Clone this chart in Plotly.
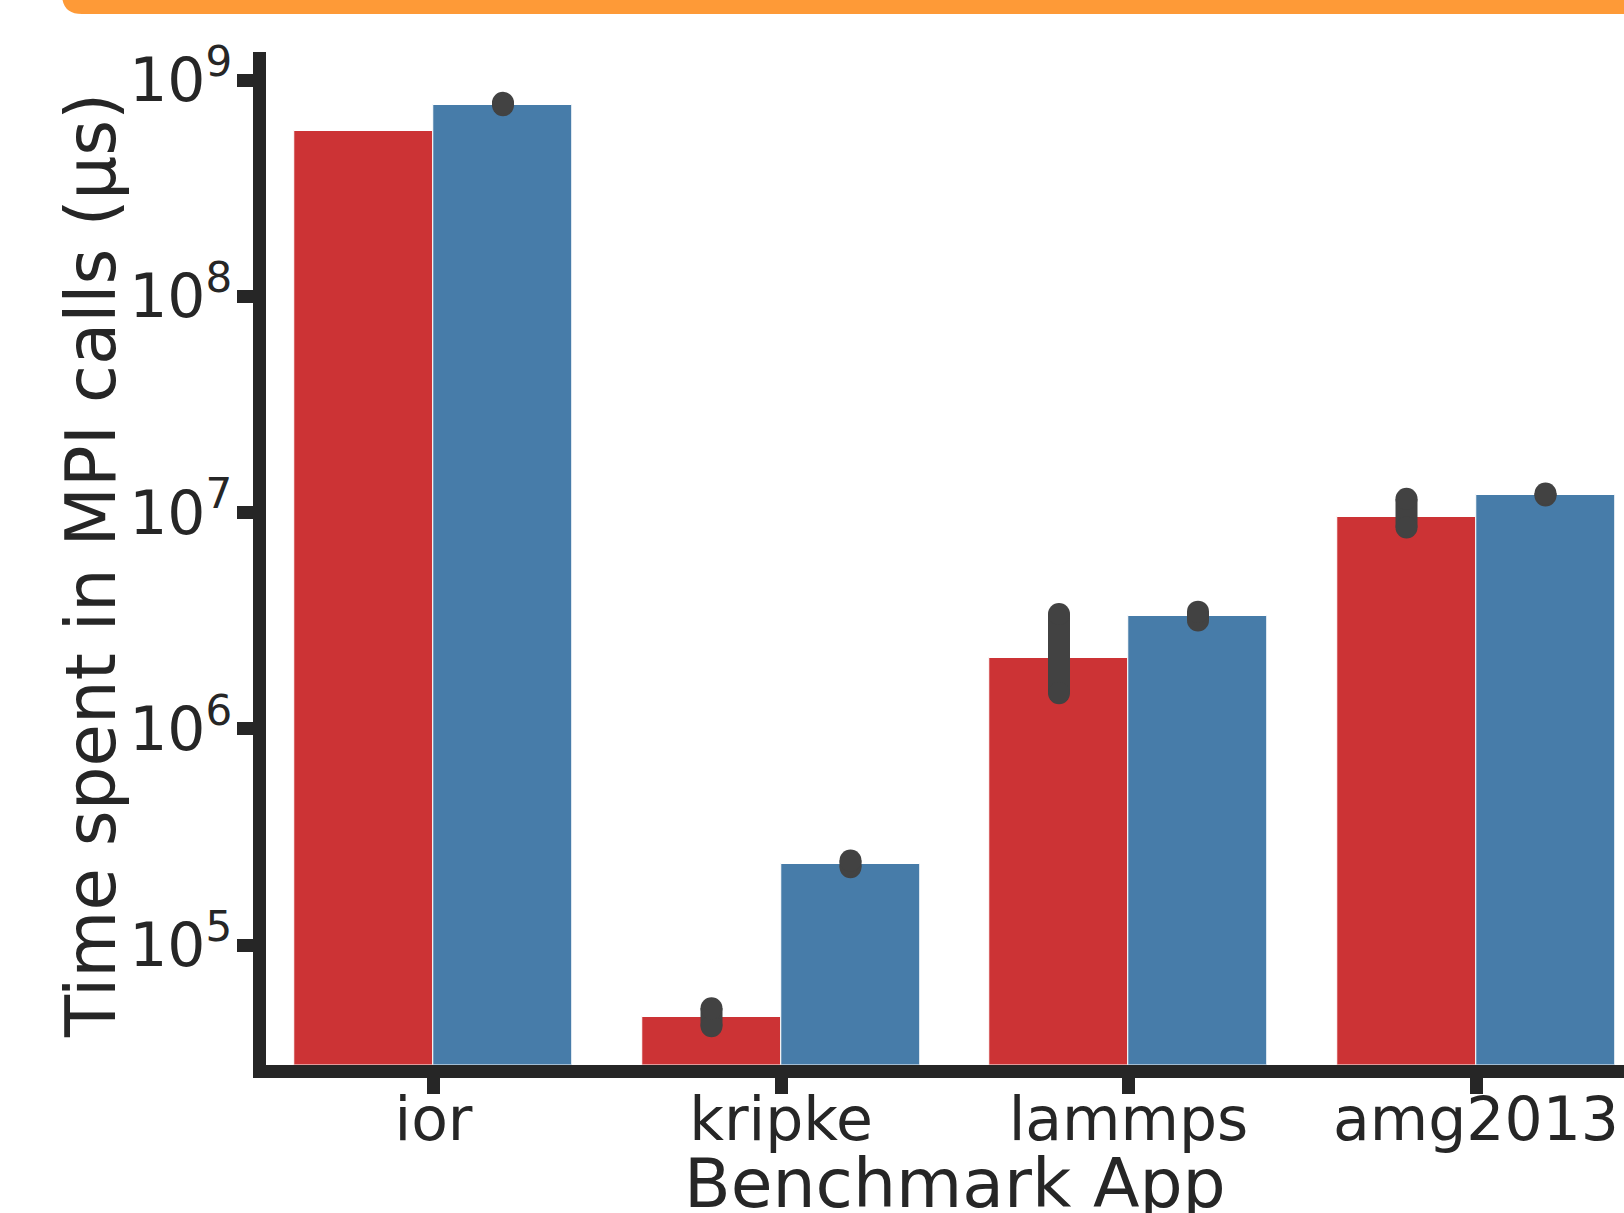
import numpy as np
import plotly.graph_objects as go

# Benchmark applications on the x axis
apps = ["ior", "kripke", "lammps", "amg2013"]

# Mean time spent in MPI calls (µs) with confidence-interval bounds
red_mean = [5.78e8, 4.64e4, 2.13e6, 9.58e6]
red_lo = [np.nan, 4.21e4, 1.46e6, 8.52e6]
red_hi = [np.nan, 5.10e4, 3.39e6, 1.157e7]

blue_mean = [7.70e8, 2.37e5, 3.33e6, 1.21e7]
blue_lo = [7.65e8, 2.29e5, 3.17e6, 1.199e7]
blue_hi = [7.85e8, 2.46e5, 3.48e6, 1.225e7]

ytick_vals = [1e5, 1e6, 1e7, 1e8, 1e9]
ytick_text = ["10<sup>5</sup>", "10<sup>6</sup>", "10<sup>7</sup>",
              "10<sup>8</sup>", "10<sup>9</sup>"]

# ---- styling ----
W, H = 1624, 1213
FONT = "DejaVu Sans"
INK = "#262626"
RED = "#CC3335"
BLUE = "#477CA9"
ERR = "#424242"
BAR_W = 0.4
LINE_W = 13


def px_x(p):
    return p / W


def px_y(p):
    return 1 - p / H


def ci_segments(xs, lo, hi):
    x, y = [], []
    for xi, l, h in zip(xs, lo, hi):
        x += [xi, xi, None]
        y += [l, h, None]
    return x, y


idx = np.arange(len(apps))
x_red = idx - BAR_W / 2
x_blue = idx + BAR_W / 2

fig = go.Figure()
for xs, vals, col in [(x_red, red_mean, RED), (x_blue, blue_mean, BLUE)]:
    fig.add_trace(go.Bar(
        x=xs, y=vals, width=BAR_W,
        marker=dict(color=col, line=dict(color="white", width=1)),
        showlegend=False,
    ))

for xs, lo, hi in [(x_red, red_lo, red_hi), (x_blue, blue_lo, blue_hi)]:
    ex, ey = ci_segments(xs, lo, hi)
    fig.add_trace(go.Scatter(
        x=ex, y=ey, mode="lines+markers",
        line=dict(color=ERR, width=22),
        marker=dict(color=ERR, size=22, line=dict(width=0)),
        showlegend=False, hoverinfo="skip",
    ))

# orange banner along the top edge, rounded at its lower-left corner
r = 20
x0, x1, yb = 62, W + 10, 14
path = (f"M {px_x(x0 - 6)},{px_y(-30)} "
        f"L {px_x(x1)},{px_y(-30)} L {px_x(x1)},{px_y(yb)} "
        f"L {px_x(x0 + r)},{px_y(yb)} "
        f"Q {px_x(x0)},{px_y(yb)} {px_x(x0)},{px_y(yb - r)} Z")
shapes = [dict(type="path", xref="paper", yref="paper", path=path,
               fillcolor="#FE9A37", line=dict(width=0), layer="above")]

# axis lines sit just outside the plotting area, so the domain edges are
# offset by half the line width from the spine centres
spine_x, spine_y, top_y = 259.75, 1071, 52
cat_px, cat0_px = 347.5, 433.5
dom_left = spine_x + LINE_W / 2
dom_bottom = spine_y - LINE_W / 2
decade_px, e5_px = 216.25, 945

fig.update_layout(
    template="none",
    width=W, height=H, autosize=False,
    margin=dict(l=0, r=0, t=0, b=0, pad=0, autoexpand=False),
    paper_bgcolor="white", plot_bgcolor="white",
    bargap=0, barmode="overlay",
    font=dict(family=FONT, color=INK),
    shapes=shapes,
    xaxis=dict(
        domain=[px_x(dom_left), 1.0],
        range=[(dom_left - cat0_px) / cat_px, (W - cat0_px) / cat_px],
        tickmode="array", tickvals=idx.tolist(), ticktext=apps,
        ticks="outside", ticklen=16, tickwidth=13, tickcolor=INK,
        showline=True, linewidth=LINE_W, linecolor=INK,
        showgrid=False, zeroline=False, automargin=False,
        ticklabelstandoff=-26,
        tickfont=dict(family=FONT, size=60, color=INK),
    ),
    yaxis=dict(
        domain=[px_y(dom_bottom), px_y(top_y)],
        type="log",
        range=[5 - (dom_bottom - e5_px) / decade_px,
               5 + (e5_px - top_y) / decade_px],
        tickmode="array", tickvals=ytick_vals, ticktext=ytick_text,
        ticks="outside", ticklen=16, tickwidth=13, tickcolor=INK,
        showline=True, linewidth=LINE_W, linecolor=INK,
        showgrid=False, zeroline=False, automargin=False,
        ticklabelstandoff=-7,
        tickfont=dict(family=FONT, size=60, color=INK),
    ),
    annotations=[
        dict(text="Benchmark App", xref="paper", yref="paper",
             x=px_x(954.75), y=px_y(1183), xanchor="center", yanchor="middle",
             showarrow=False, font=dict(family=FONT, size=68, color=INK)),
        dict(text="Time spent in MPI calls (μs)", xref="paper", yref="paper",
             x=px_x(91), y=px_y(566), xanchor="center", yanchor="middle",
             textangle=-90, showarrow=False,
             font=dict(family=FONT, size=69, color=INK)),
    ],
)

fig.write_html("out.html")
